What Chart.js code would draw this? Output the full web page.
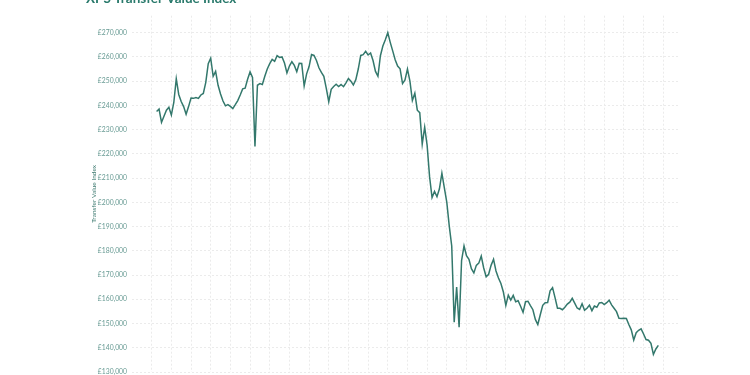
<!DOCTYPE html>
<html>
<head>
<meta charset="utf-8">
<script src="https://cdn.jsdelivr.net/npm/chart.js@4.4.0/dist/chart.umd.min.js"></script>
<style>
  html, body { margin: 0; padding: 0; background: #fff; overflow: hidden; }
  body { width: 750px; height: 375px; position: relative; }
  #wrap { position: absolute; left: 0; top: -9px; width: 750px; height: 411px; }
</style>
</head>
<body>
<div id="wrap"><canvas id="tviChart"></canvas></div>
<script>
const firstObs = 2;
const tviValues = [
  237500, 238500, 233000, 235500, 238000, 239200, 236000, 241200, 251000, 244500,
  241600, 239500, 236300, 239500, 243000, 242900, 243200, 242900, 244300, 244900,
  249500, 257200, 259500, 252000, 254000, 248300, 244700, 241800, 239800, 240300,
  239600, 238700, 240300, 242000, 244300, 246800, 247100, 250800, 253800, 251500,
  223000, 248300, 249000, 248600, 252000, 255000, 257200, 259000, 258200, 260500,
  259800, 260000, 257500, 253400, 256200, 258000, 256500, 253900, 257400, 257300,
  248000, 253000, 256000, 261000, 260600, 258500, 255500, 253600, 252000, 247000,
  241500, 246600, 247800, 248700, 247800, 248600, 247700, 249300, 251100, 250000,
  248400, 250600, 255000, 260600, 260900, 262300, 260800, 261600, 258500, 254000,
  252000, 260500, 264500, 267100, 270000, 266000, 262500, 258800, 256200, 255100,
  249000, 250500, 255000, 250000, 242000, 245000, 238000, 237000, 224000, 231000,
  223500, 210500, 202000, 204500, 202300, 205600, 212000, 206000, 200000, 190200,
  182000, 150500, 165000, 148500, 176000, 182000, 178000, 176500, 172600, 170900,
  174000, 174900, 177800, 172900, 169300, 170300, 174000, 176500, 171700, 168800,
  166500, 163000, 157500, 161700, 159700, 161600, 159000, 159400, 157100, 154600,
  159000, 159200, 157400, 155700, 151700, 149600, 153600, 157500, 158600, 158700,
  163500, 164800, 160700, 156300, 156300, 155700, 156700, 158000, 158800, 160400,
  158400, 156400, 155800, 158200, 155500, 156300, 157600, 155300, 157200, 156700,
  158500, 158700, 157800, 158600, 159600, 157700, 156300, 154900, 152200, 152100,
  152200, 152100, 149600, 147400, 143200, 146200, 147200, 147800, 145700, 143400,
  143100, 141800, 137300, 139500, 141000
];

// y tick labels
const yTickValues = [
  130000, 140000, 150000, 160000, 170000, 180000, 190000, 200000,
  210000, 220000, 230000, 240000, 250000, 260000, 270000
];
const yMin = 130000;
const yMax = 277000;

// x axis: observation index, a grid line every 8 observations
const xMin = -8;
const xMax = 214;
const xGridEvery = 8;

const teal = '#33786c';
const fontFamily = "Lato, 'Open Sans', sans-serif";

const points = tviValues.map((v, i) => ({ x: firstObs + i, y: v }));

new Chart(document.getElementById('tviChart'), {
  type: 'line',
  data: {
    datasets: [{
      label: 'Transfer Value Index',
      data: points,
      borderColor: teal,
      borderWidth: 1.5,
      pointRadius: 0,
      tension: 0,
      fill: false
    }]
  },
  options: {
    responsive: true,
    maintainAspectRatio: false,
    animation: false,
    layout: { padding: { left: 86, right: 72, top: 0, bottom: 0 } },
    plugins: {
      legend: { display: false },
      tooltip: { enabled: false },
      title: {
        display: true,
        text: 'XPS Transfer Value Index',
        align: 'start',
        color: '#2a7a6c',
        font: { family: fontFamily, size: 13.5, weight: 'bold' },
        padding: { top: 0, bottom: 8.5 }
      }
    },
    scales: {
      x: {
        type: 'linear',
        min: xMin,
        max: xMax,
        ticks: { display: false },
        afterBuildTicks: (scale) => {
          const ticks = [];
          for (let v = 0; v < xMax; v += xGridEvery) ticks.push({ value: v });
          scale.ticks = ticks;
        },
        grid: { drawTicks: false, color: '#ebebeb' },
        border: { display: false, dash: [2, 2] },
        afterFit: (scale) => { scale.height = 30; }
      },
      y: {
        min: yMin,
        max: yMax,
        afterBuildTicks: (scale) => {
          scale.ticks = yTickValues.map(v => ({ value: v }));
        },
        ticks: {
          padding: 5,
          color: '#679a93',
          font: { family: fontFamily, size: 6.8 },
          callback: (v) => '£' + Number(v).toLocaleString('en-GB')
        },
        grid: { drawTicks: false, color: '#ebebeb' },
        border: { display: false, dash: [2, 2] },
        title: {
          display: true,
          text: 'Transfer Value Index',
          color: '#3d7a70',
          font: { family: fontFamily, size: 6.5 },
          padding: { top: 4, bottom: 4 }
        },
        afterFit: (scale) => { scale.width = 46; }
      }
    }
  }
});
</script>
</body>
</html>
